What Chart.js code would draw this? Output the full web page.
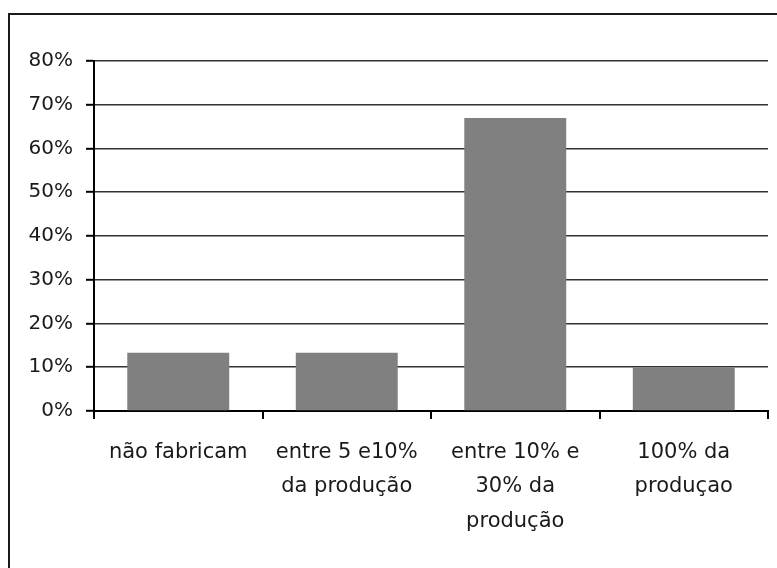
<!DOCTYPE html>
<html>
<head>
<meta charset="utf-8">
<script src="https://cdn.jsdelivr.net/npm/chart.js@4/dist/chart.umd.min.js"></script>
<style>
  html, body { margin: 0; padding: 0; background: #fff; overflow: hidden; }
  #wrap { position: relative; width: 777px; height: 568px; }
  #frame {
    position: absolute; left: 8px; top: 13px; width: 900px; height: 700px;
    border-left: 2px solid #1a1a1a; border-top: 2px solid #1a1a1a;
  }
  #grafico { position: absolute; left: 0; top: 0; }
</style>
</head>
<body>
<div id="wrap">
  <div id="frame"></div>
  <canvas id="grafico" width="777" height="568"></canvas>
</div>
<script>
// categorias e percentuais
var categorias = [
  ['não fabricam'],
  ['entre 5 e10%', 'da produção'],
  ['entre 10% e', '30% da', 'produção'],
  ['100% da', 'produçao']
];
var percentuais = [13.3, 13.3, 67, 10];
var yTicks = [0, 10, 20, 30, 40, 50, 60, 70, 80];

var fonte = { family: "'Century Gothic', 'DejaVu Sans', sans-serif", size: 21, lineHeight: 1.62 };

new Chart(document.getElementById('grafico'), {
  type: 'bar',
  data: {
    labels: categorias,
    datasets: [{
      data: percentuais,
      backgroundColor: '#808080',
      borderWidth: 0,
      categoryPercentage: 1,
      barPercentage: 0.605
    }]
  },
  options: {
    responsive: false,
    animation: false,
    layout: { padding: { left: 0, top: 61, right: 9, bottom: 0 } },
    plugins: { legend: { display: false }, tooltip: { enabled: false } },
    scales: {
      x: {
        offset: true,
        afterFit: function (s) { s.height = 157; },
        grid: { drawOnChartArea: false, drawTicks: true, tickLength: 8, color: '#000', lineWidth: 2 },
        border: { display: true, color: '#000', width: 2 },
        ticks: { color: '#1a1a1a', font: fonte, padding: 17, maxRotation: 0, autoSkip: false }
      },
      y: {
        min: 0,
        max: 80,
        afterFit: function (s) { s.width = 94; },
        afterBuildTicks: function (s) { s.ticks = yTicks.map(function (v) { return { value: v }; }); },
        grid: { color: '#333', lineWidth: 1.6, tickLength: 8, tickColor: '#000', tickWidth: 2 },
        border: { display: true, color: '#000', width: 2 },
        ticks: {
          color: '#1a1a1a',
          font: { family: fonte.family, size: 20 },
          padding: 13,
          callback: function (v) { return v + '%'; }
        }
      }
    }
  }
});
</script>
</body>
</html>
